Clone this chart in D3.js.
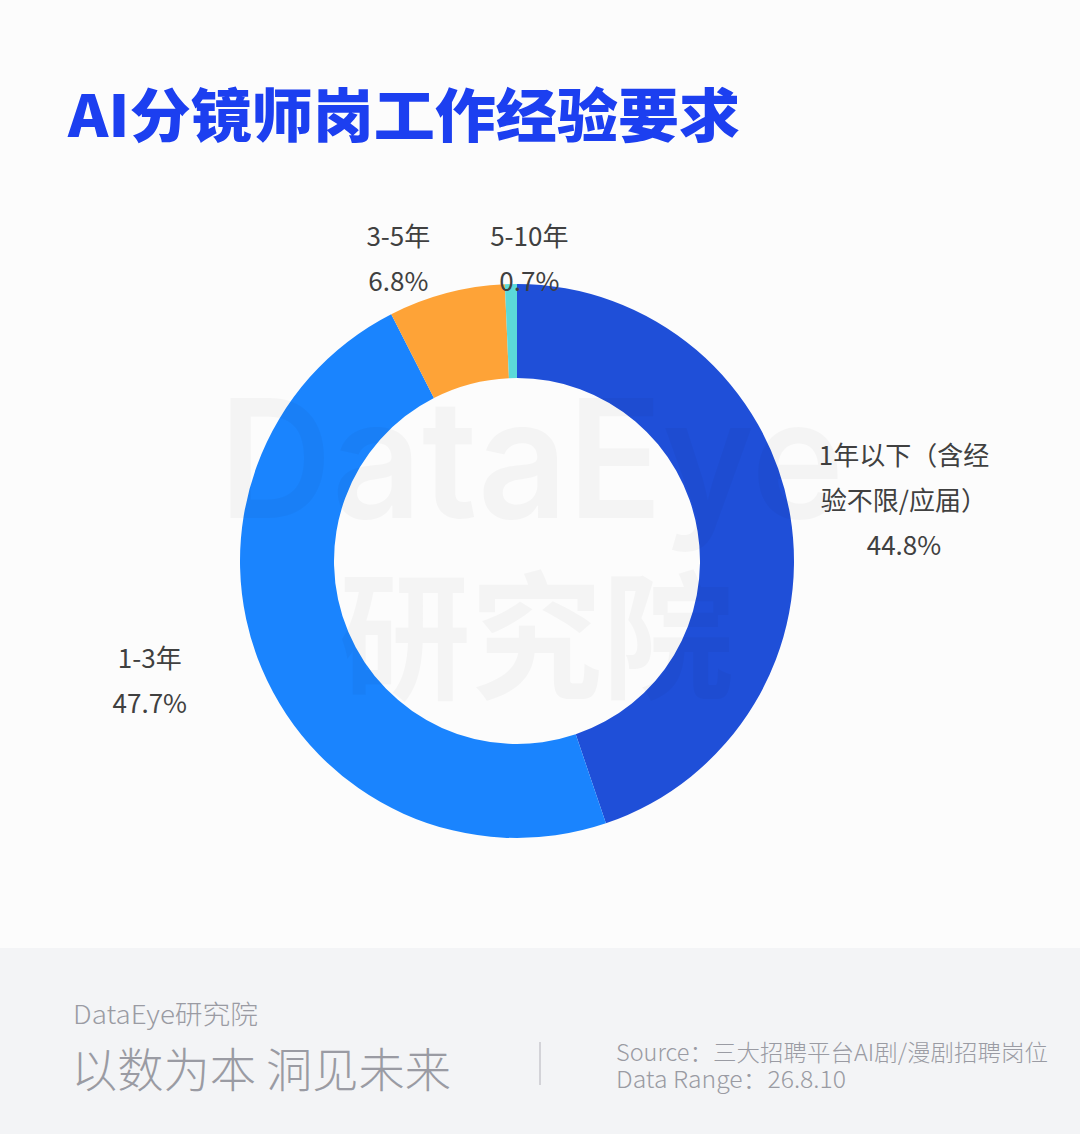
<!DOCTYPE html>
<html>
<head>
<meta charset="utf-8">
<script src="https://cdn.jsdelivr.net/npm/d3@7"></script>
<style>
  html, body { margin: 0; padding: 0; background: #fcfcfc; }
  svg { display: block; }
</style>
</head>
<body>
<div id="chart"></div>
<script>
// data
const categories = ["1年以下（含经验不限/应届）", "1-3年", "3-5年", "5-10年"];
const shares = [44.8, 47.7, 6.8, 0.7];
const sliceColors = ["#1f4fd8", "#1a84fe", "#fea337", "#5bd9d9"];

const titleText = "AI分镜师岗工作经验要求";
const brandText = "DataEye研究院";
const sloganText = "以数为本 洞见未来";
const sourceLines = ["Source：三大招聘平台AI剧/漫剧招聘岗位", "Data Range：26.8.10"];

const W = 1080, H = 1134;
const cx = 517, cy = 561;
const outerR = 277, innerR = 183;
const labelFont = "'Noto Sans CJK SC', 'Noto Sans', sans-serif";

const svg = d3.select("#chart")
  .append("svg")
  .attr("width", W)
  .attr("height", H);

svg.append("rect")
  .attr("width", W)
  .attr("height", H)
  .attr("fill", "#fcfcfc");

// Title
svg.append("text")
  .attr("x", 68)
  .attr("y", 137)
  .attr("textLength", 672)
  .attr("lengthAdjust", "spacingAndGlyphs")
  .style("font-family", labelFont)
  .style("font-weight", 900)
  .style("font-size", "58px")
  .attr("fill", "#1c3ff0")
  .text(titleText);

// Donut
const pie = d3.pie().sort(null).value((d) => d.value);
const arcs = pie(categories.map((c, i) => ({ name: c, value: shares[i], color: sliceColors[i] })));
const arc = d3.arc().innerRadius(innerR).outerRadius(outerR);

const g = svg.append("g").attr("transform", `translate(${cx},${cy})`);

g.selectAll("path.slice")
  .data(arcs)
  .enter()
  .append("path")
  .attr("class", "slice")
  .attr("d", arc)
  .attr("fill", (d) => d.data.color);

// faint watermark, darkens whatever is below it a touch
const wm = svg.append("g").attr("fill", "#000").attr("fill-opacity", 0.03);
wm.append("text")
  .attr("x", 219)
  .attr("y", 518)
  .attr("textLength", 625)
  .attr("lengthAdjust", "spacingAndGlyphs")
  .style("font-family", "Inter, Lato, sans-serif")
  .style("font-weight", 600)
  .style("font-size", "165px")
  .text("DataEye");
wm.append("text")
  .attr("x", 339)
  .attr("y", 688)
  .attr("textLength", 395)
  .attr("lengthAdjust", "spacingAndGlyphs")
  .style("font-family", labelFont)
  .style("font-weight", 700)
  .style("font-size", "138px")
  .text("研究院");

// Labels outside the ring, wrapped to a fixed block width
const blockW = 176;
const lineH = 45;
const sideR = outerR + 26;
const sideRy = outerR + 51;
const topR = outerR + 35;

const labels = arcs.map((d) => {
  const a = (d.startAngle + d.endAngle) / 2;
  const sx = Math.sin(a), sy = -Math.cos(a);
  let x, y;
  if (Math.abs(sy) > 0.9) {
    x = sx * topR;
    y = sy * topR;
  } else {
    const side = sx >= 0 ? 1 : -1;
    x = sx * sideR + side * blockW / 2;
    y = sy * sideRy - 7;
  }
  return { d, x, y, top: Math.abs(sy) > 0.9 };
});

// spread top labels that would overlap
const topLabels = labels.filter((l) => l.top).sort((a, b) => a.x - b.x);
if (topLabels.length > 1) {
  const minGap = 131;
  const mean = d3.mean(topLabels, (l) => l.x) - 10;
  const yy = d3.max(topLabels, (l) => l.y);
  topLabels.forEach((l, i) => {
    l.x = mean + (i - (topLabels.length - 1) / 2) * minGap;
    l.y = yy;
  });
}

const measure = svg.append("text")
  .style("font-family", labelFont)
  .style("font-size", "26px")
  .attr("visibility", "hidden");

function wrap(str) {
  const out = [];
  let cur = "";
  for (const ch of Array.from(str)) {
    measure.text(cur + ch);
    if (cur && measure.node().getComputedTextLength() > blockW) {
      out.push(cur);
      cur = ch;
    } else {
      cur += ch;
    }
  }
  if (cur) out.push(cur);
  return out;
}

labels.forEach((l) => {
  const lines = wrap(l.d.data.name).concat([`${l.d.data.value.toFixed(1)}%`]);
  const t = g.append("text")
    .attr("text-anchor", "middle")
    .style("font-family", labelFont)
    .style("font-size", "26px")
    .attr("fill", "#404040");
  const y0 = l.y - ((lines.length - 1) * lineH) / 2;
  lines.forEach((line, i) => {
    t.append("tspan")
      .attr("x", l.x)
      .attr("y", y0 + i * lineH)
      .attr("dy", "0.35em")
      .text(line);
  });
});
measure.remove();

// Footer band
svg.append("rect")
  .attr("x", 0)
  .attr("y", 948)
  .attr("width", W)
  .attr("height", H - 948)
  .attr("fill", "#f3f4f6");

const footGrey = "#9a9ba3";

svg.append("text")
  .attr("x", 73)
  .attr("y", 1024)
  .attr("textLength", 185)
  .attr("lengthAdjust", "spacingAndGlyphs")
  .style("font-family", labelFont)
  .style("font-weight", 300)
  .style("font-size", "26px")
  .attr("fill", footGrey)
  .text(brandText);

svg.append("text")
  .attr("x", 71)
  .attr("y", 1087)
  .attr("textLength", 380)
  .attr("lengthAdjust", "spacingAndGlyphs")
  .style("font-family", labelFont)
  .style("font-weight", 300)
  .style("font-size", "47px")
  .attr("fill", footGrey)
  .text(sloganText);

svg.append("line")
  .attr("x1", 540)
  .attr("x2", 540)
  .attr("y1", 1042)
  .attr("y2", 1085)
  .attr("stroke", "#c9c9ce")
  .attr("stroke-width", 1.5);

const sourceWidths = [432, 230];
sourceLines.forEach((s, i) => {
  svg.append("text")
    .attr("x", 616)
    .attr("y", 1061 + i * 27)
    .attr("textLength", sourceWidths[i])
    .attr("lengthAdjust", "spacingAndGlyphs")
    .style("font-family", labelFont)
    .style("font-weight", 300)
    .style("font-size", "23px")
    .attr("fill", footGrey)
    .text(s);
});
</script>
</body>
</html>
